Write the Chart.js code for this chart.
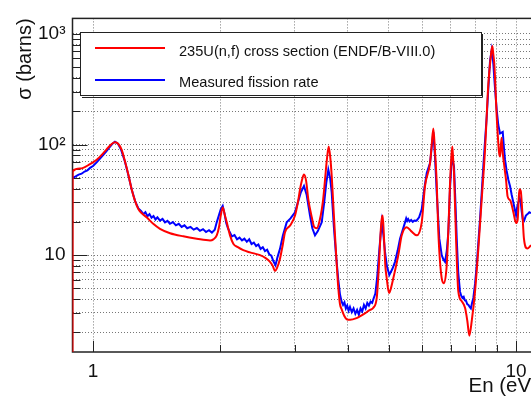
<!DOCTYPE html>
<html><head><meta charset="utf-8">
<script src="https://cdn.jsdelivr.net/npm/chart.js@4/dist/chart.umd.min.js"></script>
<style>
html,body{margin:0;padding:0;background:#fff;overflow:hidden;width:531px;height:398px}
#wrap{position:absolute;left:0;top:0;width:560px;height:398px}
</style></head><body>
<div id="wrap"><canvas id="c" width="560" height="398" style="width:560px;height:398px"></canvas></div>
<script>
// ---------- data ----------
const seriesNames = ['235U(n,f) cross section (ENDF/B-VIII.0)', 'Measured fission rate'];
const xTitle = 'En (eV)';
const yTitle = 'σ (barns)';

const endfE = [0.8944,0.8953,0.9316,0.9838,1.0203,1.0576,1.0868,1.1071,1.127,1.148,1.169,1.190,1.212,1.2345,1.257,1.280,1.304,1.339,1.388,1.440,1.521,1.635,1.759,1.891,1.925,1.961,1.985,2.005,2.026,2.05,2.071,2.108,2.146,2.20,2.266,2.35,2.482,2.56,2.621,2.66,2.693,2.72,2.767,2.81,2.844,2.923,3.003,3.05,3.086,3.12,3.153,3.19,3.228,3.29,3.335,3.38,3.44,3.50,3.536,3.57,3.607,3.64,3.667,3.70,3.733,3.77,3.801,3.836,3.872,3.93,3.98,4.052,4.2,4.355,4.516,4.599,4.685,4.726,4.751,4.78,4.814,4.84,4.875,4.91,4.947,5.009,5.06,5.127,5.269,5.368,5.515,5.65,5.824,5.985,6.094,6.262,6.32,6.376,6.43,6.494,6.551,6.673,6.757,6.858,6.93,6.982,7.03,7.069,7.10,7.135,7.214,7.304,7.44,7.576,7.672,7.756,7.858,8.0,8.145,8.296,8.447,8.60,8.728,8.79,8.838,8.886,9.003,9.117,9.17,9.24,9.30,9.40,9.47,9.55,9.70,9.86,10.0,10.09,10.15,10.19,10.26,10.35,10.44,10.63,10.85];
const endfSigma = [1.0,57.4,60.6,66.5,72.9,83.6,94,101.2,104.9,101.2,89.5,70.5,53.5,39.3,31,26.1,23.9,22,19.2,17.3,15.8,14.8,14.1,13.6,13.9,15.1,17.9,23,27,23,19.8,15.1,12.7,11.8,11.1,10.6,10,9.4,8.7,8.0,7.2,7.6,9.3,12.5,16.1,18.5,22.8,30,39.3,48,53.5,47,32,22,17.9,17.5,21.2,32,48.3,72,96,75,51.8,28,15.1,8,5.03,3.6,3.23,2.8,2.63,2.6,2.7,2.91,3.2,3.34,4.1,6.5,9.3,15,21.2,22.8,14.1,8.0,6.18,4.54,5.0,6.18,10,15.1,17.9,16.5,15.1,19.8,42.2,68,100,140,90,45.1,16.1,6.18,5.58,8.14,20,45.1,75,96,75,55.3,14.1,4.7,3.83,3.34,2.54,1.87,2.54,4.7,11.4,32,89.6,352,654,780,650,532,178,85,78,115,85,60,48,34,31,24.3,19.5,21,33,39.5,38,24.3,14.1,11.5,12.3];

const measE = [0.8953,0.91,0.925,0.94,0.955,0.97,0.984,1.00,1.02,1.04,1.0576,1.075,1.09,1.11,1.127,1.145,1.165,1.19,1.212,1.235,1.257,1.28,1.30,1.315,1.33,1.345,1.36,1.375,1.39,1.405,1.42,1.44,1.46,1.48,1.50,1.52,1.545,1.57,1.595,1.62,1.645,1.67,1.70,1.73,1.76,1.79,1.82,1.85,1.88,1.91,1.94,1.961,1.985,2.005,2.026,2.045,2.065,2.085,2.10,2.13,2.16,2.19,2.22,2.25,2.28,2.31,2.34,2.37,2.40,2.43,2.46,2.49,2.52,2.55,2.58,2.61,2.64,2.67,2.70,2.73,2.767,2.81,2.87,2.93,3.003,3.05,3.10,3.153,3.20,3.258,3.30,3.348,3.40,3.473,3.52,3.56,3.600,3.635,3.667,3.71,3.754,3.80,3.836,3.87,3.90,3.93,3.96,3.99,4.02,4.05,4.09,4.13,4.17,4.21,4.25,4.29,4.33,4.37,4.41,4.45,4.49,4.53,4.57,4.61,4.65,4.70,4.75,4.814,4.86,4.901,4.95,5.017,5.10,5.175,5.25,5.318,5.40,5.465,5.50,5.53,5.56,5.60,5.65,5.70,5.75,5.82,5.90,5.985,6.07,6.150,6.262,6.32,6.376,6.43,6.494,6.587,6.673,6.73,6.795,6.86,6.918,6.98,7.047,7.09,7.135,7.19,7.241,7.30,7.37,7.42,7.47,7.52,7.57,7.62,7.67,7.72,7.77,7.82,7.87,7.927,8.0,8.074,8.145,8.220,8.30,8.369,8.45,8.525,8.60,8.680,8.762,8.80,8.838,8.92,9.003,9.08,9.167,9.24,9.303,9.36,9.419,9.50,9.590,9.68,9.768,9.854,9.93,10.0,10.06,10.126,10.2,10.26,10.31,10.37,10.45,10.55,10.65,10.75,10.85];
const measSigma = [50,51.5,53.5,54.5,57,58.5,61.5,64,69,75,80.8,87,93,101,106,102,90,70,53,39,31,26.5,25,23.5,24.5,22.5,23.5,21.8,22.6,21,22,20.5,21.3,19.8,20.4,19.2,19.9,18.6,19.2,18.0,18.6,17.5,18.0,17.0,17.6,16.6,17.2,16.2,16.8,16.0,17.0,19.8,23,26,27.9,24,19.5,17.5,16.5,14.8,15.2,13.9,14.4,13.6,14.1,13.2,13.9,12.6,13.0,12.1,12.5,11.4,11.8,10.9,11.2,10.2,9.9,8.8,8.1,9.6,11.4,15,19.8,21.5,24.4,30,37,42.2,35,22.8,17.5,15.1,16.5,19.8,30,45,59.3,50,36.8,18,10,6.0,4.4,3.8,3.55,3.75,3.3,3.5,3.15,3.4,3.05,3.3,2.95,3.2,2.9,3.3,3.1,3.55,3.3,3.7,3.5,3.8,3.7,4.1,4.5,6.5,11,19.8,15,10.7,8,6.63,7.5,8.7,11,14.1,17,19.8,21.5,20.4,21.2,20.2,20.8,20.0,20.6,20.5,22,26,40,55.3,68,95,130,80,36.8,14.1,10,9.2,8.7,11,16.1,40,73,70,63.6,30,14.1,7,4.7,4.3,4.1,4.2,3.9,3.85,3.6,3.55,3.4,3.3,3.7,4.1,5.5,8.1,13,21.2,38,63.6,110,178,320,570,720,640,532,320,204,150,126,128,130,95,73,58,48,42,35,30,26,23,27,30,33,30,25,21.2,20.5,22.8,23.5,24.4,24];

// axis ranges and tick/grid values
const xLimits = [0.8944, 11.27];
const yLimits = [1.332, 1382];
const xGridValues = [1,2,3,4,5,6,7,8,9,10];
const yGridValues = [2,3,4,5,6,7,8,9,10,20,30,40,50,60,70,80,90,100,200,300,400,500,600,700,800,900,1000];
const xLabelValues = [1, 10];
const xLabelTexts = ['1', '10'];
const yLabelValues = [10, 100, 1000];
const yLabelTexts = ['10', '10²', '10³'];

// ---------- chart ----------
const FONT = '"Liberation Sans", Arial, Helvetica, sans-serif';
const toPoints = (xs, ys) => xs.map((e, i) => ({x: e, y: ys[i]}));

const framePlugin = {
  id: 'frame',
  beforeDatasetsDraw(chart) {
    const {ctx, chartArea: a, scales: {x, y}} = chart;
    ctx.save();
    ctx.strokeStyle = '#222';
    ctx.lineWidth = 1;
    ctx.beginPath();
    yGridValues.forEach(v => {
      const p = Math.round(y.getPixelForValue(v)) + 0.5;
      const L = yLabelValues.includes(v) ? 15 : 8;
      ctx.moveTo(a.left, p); ctx.lineTo(a.left + L, p);
    });
    xGridValues.forEach(v => {
      const p = Math.round(x.getPixelForValue(v)) + 0.5;
      const L = xLabelValues.includes(v) ? 11 : 7;
      ctx.moveTo(p, a.bottom); ctx.lineTo(p, a.bottom - L);
    });
    ctx.stroke();
    ctx.lineWidth = 1.5;
    ctx.strokeStyle = '#222';
    ctx.strokeRect(a.left, a.top, a.right - a.left, a.bottom - a.top);
    ctx.restore();
  },
  afterDatasetsDraw(chart) {
    const {ctx} = chart;
    const ds = chart.data.datasets;
    ctx.save();
    ctx.fillStyle = '#fff';
    ctx.fillRect(80, 32, 402, 64);
    ctx.strokeStyle = '#222';
    ctx.lineWidth = 1;
    ctx.strokeRect(80.5, 32.5, 401, 63);
    ctx.beginPath();
    ctx.moveTo(482.5, 34); ctx.lineTo(482.5, 97.5); ctx.lineTo(82, 97.5);
    ctx.stroke();
    const rows = [48, 80];
    const base = [56.3, 87.3];
    ds.forEach((d, i) => {
      ctx.strokeStyle = d.borderColor;
      ctx.lineWidth = 2;
      ctx.beginPath();
      ctx.moveTo(95, rows[i]); ctx.lineTo(165, rows[i]);
      ctx.stroke();
      ctx.fillStyle = '#111';
      ctx.font = '14.6px ' + FONT;
      ctx.textBaseline = 'alphabetic';
      ctx.textAlign = 'left';
      ctx.fillText(d.label, 179, base[i]);
    });
    ctx.restore();
  }
};

new Chart(document.getElementById('c'), {
  type: 'line',
  data: {
    datasets: [
      {label: seriesNames[0], data: toPoints(endfE, endfSigma), borderColor: '#ff0000', borderWidth: 2,
       pointRadius: 0, fill: false, cubicInterpolationMode: 'monotone'},
      {label: seriesNames[1], data: toPoints(measE, measSigma), borderColor: '#0000ff', borderWidth: 2,
       pointRadius: 0, fill: false, tension: 0}
    ]
  },
  options: {
    responsive: false,
    animation: false,
    devicePixelRatio: 1,
    events: [],
    layout: {padding: {left: 0, right: 22, top: 12.7, bottom: 0}},
    plugins: {legend: {display: false}, tooltip: {enabled: false}},
    scales: {
      x: {
        type: 'logarithmic', min: xLimits[0], max: xLimits[1],
        afterBuildTicks: s => { s.ticks = xGridValues.map(v => ({value: v})); },
        afterFit: s => { s.height = 46; },
        ticks: {
          autoSkip: false, maxRotation: 0, minRotation: 0, padding: 8, color: '#111',
          font: {family: FONT, size: 19},
          callback: v => { const i = xLabelValues.indexOf(v); return i >= 0 ? xLabelTexts[i] : ''; }
        },
        grid: {color: '#777', lineWidth: 1, drawTicks: false},
        border: {display: false, dash: [1, 2]},
        title: {display: true, text: xTitle, align: 'end', color: '#111',
                font: {family: FONT, size: 20.5, lineHeight: 1.1}, padding: {top: 0, bottom: 0}}
      },
      y: {
        type: 'logarithmic', min: yLimits[0], max: yLimits[1],
        afterBuildTicks: s => { s.ticks = yGridValues.map(v => ({value: v})); },
        afterFit: s => { s.width = 72.5; },
        ticks: {
          autoSkip: false, padding: 7, color: '#111',
          font: {family: FONT, size: 19},
          callback: v => { const i = yLabelValues.indexOf(v); return i >= 0 ? yLabelTexts[i] : ''; }
        },
        grid: {color: '#777', lineWidth: 1, drawTicks: false},
        border: {display: false, dash: [1, 2]},
        title: {display: true, text: yTitle, align: 'end', color: '#111',
                font: {family: FONT, size: 20, lineHeight: 1.2}, padding: {top: 13, bottom: 0}}
      }
    }
  },
  plugins: [framePlugin]
});
</script>
</body></html>
